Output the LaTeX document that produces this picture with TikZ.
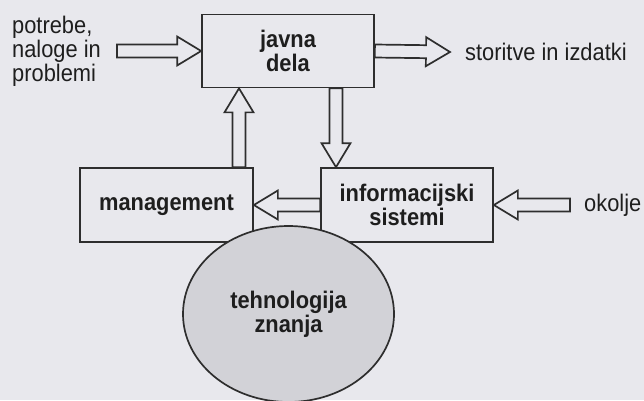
\documentclass[tikz,border=0pt]{standalone}
\usepackage{fontspec}
\setmainfont{Liberation Sans}[FakeStretch=0.91]
\usetikzlibrary{calc,shapes.geometric}
\definecolor{bg}{HTML}{E8E8ED}
\definecolor{ink}{HTML}{2E2E2E}
\definecolor{txt}{HTML}{1E1E1E}
\definecolor{ellfill}{HTML}{D2D2D7}
\tikzset{
  box/.style={draw=ink, line width=1.7pt, rectangle, inner sep=0pt, align=center,
    font=\fontsize{24}{24}\selectfont\bfseries, text=txt},
  lbl/.style={inner sep=0pt, font=\fontsize{24}{24}\selectfont, text=txt},
  blockarrow/.style={draw=ink, line width=1.7pt, line join=miter,
    to path={let \p1=(\tikztostart), \p2=(\tikztotarget), \p3=($(\p2)!24pt!(\p1)$) in
      ($(\p1)!6.5pt!90:(\p2)$) -- ($(\p3)!6.5pt!90:(\p2)$) -- ($(\p3)!14.5pt!90:(\p2)$) -- (\p2)
      -- ($(\p3)!14.5pt!-90:(\p2)$) -- ($(\p3)!6.5pt!-90:(\p2)$) -- ($(\p1)!6.5pt!-90:(\p2)$) -- cycle}}
}
\begin{document}
\begin{tikzpicture}[x=1pt,y=-1pt]
\fill[bg] (0,0) rectangle (644,400);
\useasboundingbox (0,0) rectangle (644,400);

\node[box, minimum width=172pt, minimum height=73pt] (javna) at (288,51) {javna\\dela};
\node[box, minimum width=173pt, minimum height=74pt] (mgmt) at (166.5,205) {management};
\node[box, minimum width=172pt, minimum height=74pt] (info) at (407,205) {informacijski\\sistemi};

\node[lbl, align=left, anchor=west] (potrebe) at (12,51) {potrebe,\\naloge in\\problemi};
\node[lbl, anchor=west] (storitve) at (465,52) {storitve in izdatki};
\node[lbl, anchor=west] (okolje) at (584,205) {okolje};

\coordinate (ux) at (239,0);
\coordinate (dx) at (336,0);

\draw[blockarrow] ([xshift=16pt]potrebe.east) to (javna.west);
\draw[blockarrow] (javna.east) to ([xshift=-15pt]storitve.west);
\draw[blockarrow] (mgmt.north -| ux) to (javna.south -| ux);
\draw[blockarrow] (javna.south -| dx) to (info.north -| dx);
\draw[blockarrow] (info.west) to (mgmt.east);
\draw[blockarrow] ([xshift=-14pt]okolje.west) to (info.east);

\node[ellipse, draw=ink, line width=1.7pt, fill=ellfill, minimum width=211pt, minimum height=176pt,
  inner sep=0pt, align=center, font=\fontsize{24}{24}\selectfont\bfseries, text=txt]
  (teh) at (288.5,314) {tehnologija\\znanja};
\end{tikzpicture}
\end{document}
